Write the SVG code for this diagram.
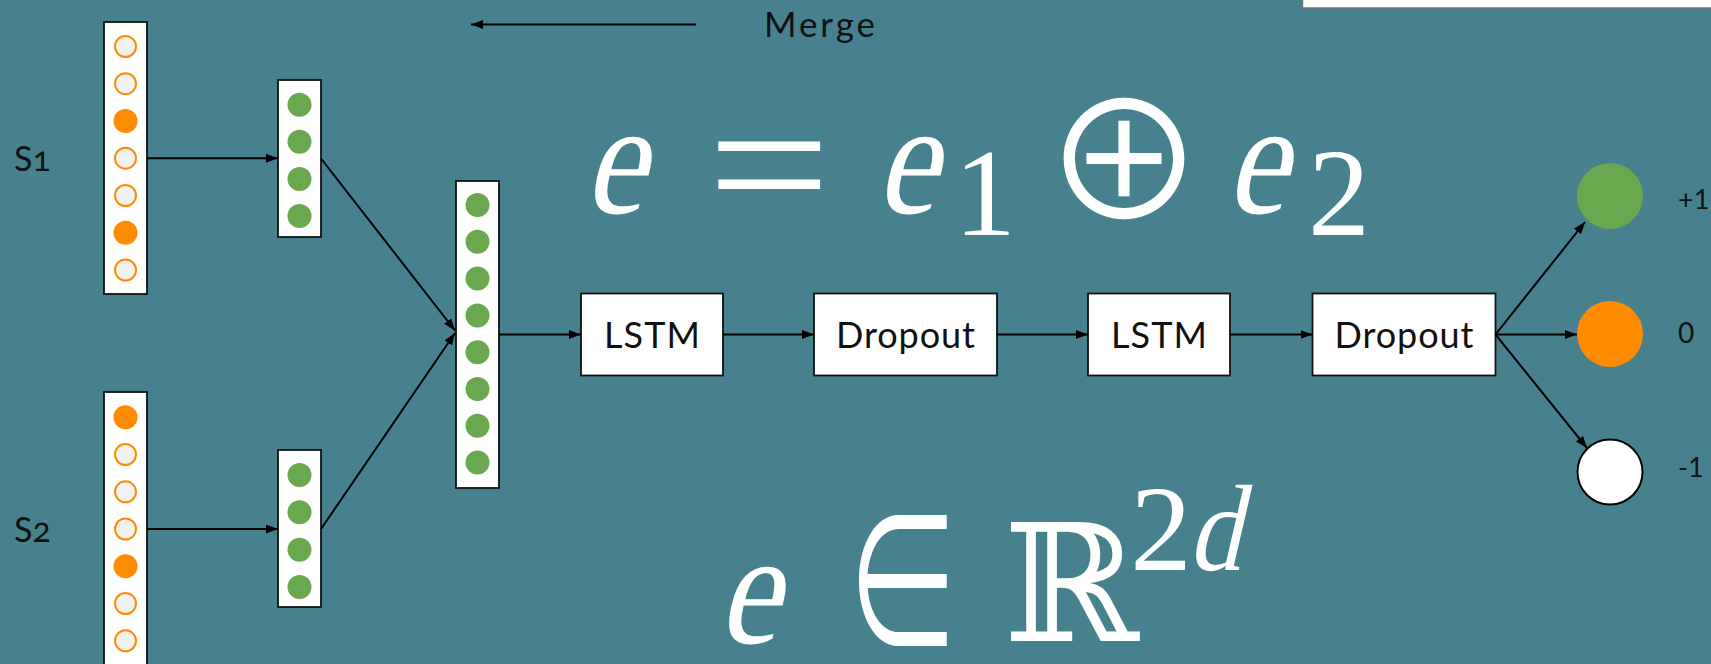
<svg xmlns="http://www.w3.org/2000/svg" width="1711" height="664" viewBox="0 0 1711 664">
  <defs>
    <marker id="arrow" markerUnits="userSpaceOnUse" markerWidth="13" markerHeight="10" refX="12" refY="4.5" orient="auto">
      <path d="M0,0 L12,4.5 L0,9 z" fill="#000"/>
    </marker>
    <style>
      .bg { fill: #47818d; }
      .vec { fill: #ffffff; stroke: #111; stroke-width: 1.8; }
      .box { fill: #ffffff; stroke: #111; stroke-width: 1.8; }
      .off { fill: #f2f2f2; stroke: #ff8c00; stroke-width: 2; }
      .on { fill: #ff8c00; }
      .emb { fill: #6aa84f; }
      .edge { stroke: #000; stroke-width: 2; fill: none; marker-end: url(#arrow); }
      .lbl { font-family: Lato, "Open Sans", sans-serif; fill: #111; }
      .boxtxt { font-family: Lato, "Open Sans", sans-serif; font-size: 36px; fill: #111; text-anchor: middle; }
      .mi { font-family: "Liberation Serif", serif; fill: #fff; text-anchor: middle; }
      .mn { font-family: "Liberation Serif", serif; fill: #fff; text-anchor: middle; }
      .mo { font-family: "Noto Sans CJK JP", "DejaVu Sans", sans-serif; fill: #fff; text-anchor: middle; }
      .ms { font-family: "DejaVu Serif", serif; fill: #fff; text-anchor: middle; }
    </style>
  </defs>

  <rect class="bg" x="0" y="0" width="1711" height="664"/>
  <!-- panel edge at top right -->
  <rect x="1302.5" y="-6" width="420" height="14" fill="#fff" stroke="#6b7778" stroke-width="1.5"/>

  <!-- sentence 1 one-hot input -->
  <g id="s1-input">
    <text class="lbl" x="14" y="171" font-size="34" style="font-variant-numeric: oldstyle-nums">S1</text>
    <rect class="vec" x="104" y="22" width="43" height="272"/>
    <circle class="off" cx="125.5" cy="46.5" r="10.5"/>
    <circle class="off" cx="125.5" cy="83.7" r="10.5"/>
    <circle class="on" cx="125.5" cy="121" r="12"/>
    <circle class="off" cx="125.5" cy="158.2" r="10.5"/>
    <circle class="off" cx="125.5" cy="195.5" r="10.5"/>
    <circle class="on" cx="125.5" cy="232.7" r="12"/>
    <circle class="off" cx="125.5" cy="270" r="10.5"/>
  </g>

  <!-- sentence 2 one-hot input -->
  <g id="s2-input">
    <text class="lbl" x="14" y="542" font-size="34" style="font-variant-numeric: oldstyle-nums">S2</text>
    <rect class="vec" x="104" y="392" width="43" height="300"/>
    <circle class="on" cx="125.5" cy="417.3" r="12"/>
    <circle class="off" cx="125.5" cy="454.5" r="10.5"/>
    <circle class="off" cx="125.5" cy="491.8" r="10.5"/>
    <circle class="off" cx="125.5" cy="529" r="10.5"/>
    <circle class="on" cx="125.5" cy="566.3" r="12"/>
    <circle class="off" cx="125.5" cy="603.5" r="10.5"/>
    <circle class="off" cx="125.5" cy="640.8" r="10.5"/>
  </g>

  <!-- sentence embeddings -->
  <g id="s1-embedding">
    <rect class="vec" x="278" y="80" width="43" height="157"/>
    <circle class="emb" cx="299.5" cy="104.7" r="12"/>
    <circle class="emb" cx="299.5" cy="141.8" r="12"/>
    <circle class="emb" cx="299.5" cy="179" r="12"/>
    <circle class="emb" cx="299.5" cy="216" r="12"/>
  </g>
  <g id="s2-embedding">
    <rect class="vec" x="278" y="450" width="43" height="157"/>
    <circle class="emb" cx="299.5" cy="475" r="12"/>
    <circle class="emb" cx="299.5" cy="512.3" r="12"/>
    <circle class="emb" cx="299.5" cy="549.7" r="12"/>
    <circle class="emb" cx="299.5" cy="587" r="12"/>
  </g>

  <!-- concatenated embedding -->
  <g id="merged">
    <rect class="vec" x="456" y="181" width="43" height="307"/>
    <circle class="emb" cx="477.5" cy="205" r="12"/>
    <circle class="emb" cx="477.5" cy="241.8" r="12"/>
    <circle class="emb" cx="477.5" cy="278.6" r="12"/>
    <circle class="emb" cx="477.5" cy="315.4" r="12"/>
    <circle class="emb" cx="477.5" cy="352.2" r="12"/>
    <circle class="emb" cx="477.5" cy="389" r="12"/>
    <circle class="emb" cx="477.5" cy="425.8" r="12"/>
    <circle class="emb" cx="477.5" cy="462.6" r="12"/>
  </g>

  <g id="merge-note">
    <text class="lbl" x="764" y="36.5" font-size="35" textLength="111" lengthAdjust="spacing">Merge</text>
  </g>

  <!-- layers -->
  <g id="lstm1">
    <rect class="box" x="581" y="293.5" width="142" height="82"/>
    <text class="boxtxt" x="652" y="348" textLength="96" lengthAdjust="spacing">LSTM</text>
  </g>
  <g id="dropout1">
    <rect class="box" x="814" y="293.5" width="183" height="82"/>
    <text class="boxtxt" x="905.5" y="348" textLength="139" lengthAdjust="spacing">Dropout</text>
  </g>
  <g id="lstm2">
    <rect class="box" x="1088" y="293.5" width="142" height="82"/>
    <text class="boxtxt" x="1159" y="348" textLength="96" lengthAdjust="spacing">LSTM</text>
  </g>
  <g id="dropout2">
    <rect class="box" x="1312.5" y="293.5" width="183" height="82"/>
    <text class="boxtxt" x="1404" y="348" textLength="139" lengthAdjust="spacing">Dropout</text>
  </g>

  <!-- output classes -->
  <g id="out-pos">
    <circle cx="1610" cy="196" r="33" fill="#6aa84f"/>
    <text class="lbl" x="1678" y="209" font-size="27">+1</text>
  </g>
  <g id="out-neutral">
    <circle cx="1610" cy="334" r="33" fill="#ff8c00"/>
    <text class="lbl" x="1678" y="343" font-size="28">0</text>
  </g>
  <g id="out-neg">
    <circle cx="1610" cy="472" r="32.5" fill="#fff" stroke="#000" stroke-width="2"/>
    <text class="lbl" x="1678" y="477" font-size="27">-1</text>
  </g>

  <!-- formulas: italic letters are slanted upright serif glyphs -->
  <g id="formula-concat">
    <text class="mi" transform="translate(614,213) skewX(-13) scale(0.85,1)" font-size="162">e</text>
    <text class="mn" transform="translate(769,229) scale(1.15,1)" font-size="190">=</text>
    <text class="mi" transform="translate(906,213) skewX(-13) scale(0.85,1)" font-size="162">e</text>
    <text class="mn" x="985" y="235" font-size="124">1</text>
    <text class="mo" x="1124" y="220" font-size="163">⊕</text>
    <text class="mi" transform="translate(1256,213) skewX(-13) scale(0.85,1)" font-size="162">e</text>
    <text class="mn" x="1339" y="235" font-size="124">2</text>
  </g>
  <g id="formula-space">
    <text class="mi" transform="translate(748,643) skewX(-13) scale(0.85,1)" font-size="162">e</text>
    <text class="mo" transform="translate(903,657) scale(0.58,1)" font-size="202">∈</text>
    <text class="ms" x="1071" y="641" font-size="163">ℝ</text>
    <text class="mn" x="1161" y="570" font-size="123">2</text>
    <text class="mi" transform="translate(1214,570) skewX(-13) scale(0.85,1)" font-size="123">d</text>
  </g>

  <!-- connectors -->
  <g id="connectors">
    <line class="edge" x1="696" y1="24.5" x2="471" y2="24.5"/>
    <line class="edge" x1="147" y1="158.3" x2="278" y2="158.3"/>
    <line class="edge" x1="147" y1="529" x2="278" y2="529"/>
    <line class="edge" x1="321" y1="158.5" x2="455" y2="330.5"/>
    <line class="edge" x1="321" y1="529" x2="455" y2="333"/>
    <line class="edge" x1="499" y1="334.5" x2="581" y2="334.5"/>
    <line class="edge" x1="723" y1="334.5" x2="814" y2="334.5"/>
    <line class="edge" x1="997" y1="334.5" x2="1088" y2="334.5"/>
    <line class="edge" x1="1230" y1="334.5" x2="1312.5" y2="334.5"/>
    <line class="edge" x1="1495.5" y1="334.5" x2="1585" y2="222"/>
    <line class="edge" x1="1495.5" y1="334.5" x2="1577" y2="334.5"/>
    <line class="edge" x1="1495.5" y1="334.5" x2="1587" y2="448"/>
  </g>
</svg>
